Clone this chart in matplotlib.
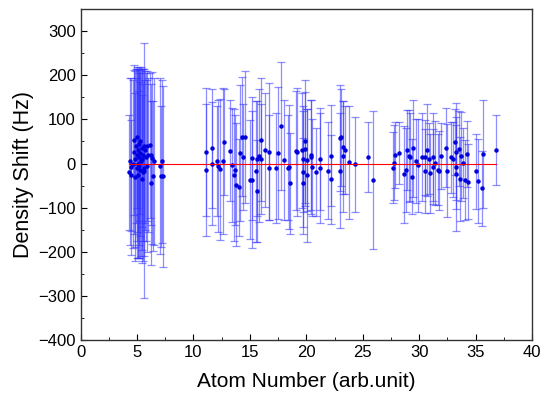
import numpy as np
import matplotlib
matplotlib.use('Agg')
import matplotlib.pyplot as plt

plt.rcParams['font.family'] = ['Liberation Sans', 'DejaVu Sans']

# cluster 1 (dense, large uncertainty)
x1 = [4.3, 4.4, 4.46, 4.5, 4.6, 4.75, 4.75, 4.8, 4.85, 4.9, 4.95, 5.0, 5.0, 5.05, 5.1,
      5.1, 5.15, 5.2, 5.2, 5.25, 5.3, 5.3, 5.35, 5.4, 5.4, 5.45, 5.5, 5.5, 5.57, 5.6,
      5.65, 5.7, 5.75, 5.84, 5.9, 6.0, 6.1, 6.2, 6.2, 6.35, 6.4, 6.5, 7.0, 7.1, 7.2, 7.3]
y1 = [-20, 5, -27, -7, -1, 54, 26, 10, -30, 40, 20, -10, 60, 0, 30,
      -25, 15, 45, -5, 25, -15, 50, 5, 35, -35, 10, 20, -20, -16, 40,
      -10, 30, 15, 39, -5, 20, 41, 20, -44, 13, -29, 5, -5, -29, 5, -29]
e1 = [130, 190, 125, 200, 190, 170, 185, 200, 190, 175, 195, 205, 160, 215, 185,
      190, 200, 175, 210, 190, 200, 165, 215, 180, 190, 205, 195, 200, 289, 175,
      200, 180, 190, 170, 195, 175, 165, 160, 185, 195, 170, 190, 200, 160, 185, 205]

# cluster 2
x2 = [11.1, 11.1, 11.6, 11.6, 12.06, 12.2, 12.35, 12.6, 12.7, 13.2, 13.4, 13.6, 13.65,
      13.8, 14.07, 14.1, 14.3, 14.35, 14.6, 15.0, 15.2, 15.2, 15.5, 15.6, 15.6, 15.8,
      16.0, 16.0, 16.3, 16.7, 16.7, 17.3, 17.5, 17.8, 18.0, 18.4, 18.5, 18.55, 19.05,
      19.2, 19.65, 19.7, 19.75, 19.75, 19.85, 19.9, 20.1, 20.1, 20.4, 20.45, 20.5,
      20.9, 21.2, 21.2, 21.9, 22.2, 22.2, 23.0, 23.0, 23.1, 23.25, 23.25, 23.4, 23.8,
      24.3, 25.5, 25.95]
y2 = [27, -14, 35, 0, 6, -5, -13, 6, 49, 29, -3, -26, -14,
      -48, -54, 24, 61, 14, 60, -37, 12, -37, -18, 11, -62, 18,
      54, 11, 31, 27, -9, -10, 24, 86, 8, -9, -8, -45, 29,
      26, 30, 10, -20, -43, 33, 50, 8, -27, 20, 15, -8,
      -19, 10, -10, -16, 18, -36, 58, -16, 60, 37, 16, 30, 3,
      -2, 15, -37]
e2 = [145, 150, 135, 140, 125, 150, 160, 165, 120, 115, 130, 150, 125,
      140, 110, 155, 135, 120, 150, 135, 140, 155, 160, 130, 115, 150,
      140, 125, 130, 155, 120, 125, 150, 145, 135, 120, 140, 115, 135,
      145, 130, 120, 140, 100, 130, 140, 115, 150, 125, 130, 110,
      100, 115, 125, 110, 115, 100, 120, 130, 110, 105, 125, 100, 128,
      107, 80, 157]

# cluster 3
x3 = [27.65, 27.8, 27.9, 28.2, 28.7, 28.85, 28.9, 29.1, 29.2, 29.4, 29.5, 29.7, 29.9,
      30.3, 30.5, 30.55, 30.7, 30.85, 31.0, 31.2, 31.2, 31.4, 31.65, 31.8, 31.95,
      32.4, 32.45, 32.8, 33.0, 33.2, 33.25, 33.25, 33.3, 33.55, 33.65, 33.7, 33.9,
      34.1, 34.25, 34.3, 35.0, 35.2, 35.6, 35.7, 36.8]
y3 = [-9, 2, 20, 24, -24, -14, 31, 17, 15, -30, 35, 6, -4,
      14, 14, -17, 31, 11, -22, 15, -7, 2, -14, -16, 18,
      36, -16, 14, 10, 49, 27, -8, -24, 33, -35, 16, 1,
      -37, 22, -41, -18, -39, -56, 21, 31]
e3 = [80, 85, 75, 70, 110, 95, 90, 105, 100, 85, 110, 95, 105,
      100, 85, 95, 105, 80, 90, 100, 85, 95, 80, 90, 75,
      90, 105, 80, 85, 75, 110, 95, 130, 85, 95, 100, 80,
      90, 75, 85, 85, 95, 85, 122, 80]

x = np.array(x1 + x2 + x3)
y = np.array(y1 + y2 + y3)
err = np.array(e1 + e2 + e3)

fig = plt.figure(figsize=(5.43, 3.99), dpi=100)
ax = fig.add_axes([0.1486, 0.148, 0.831, 0.829])

ax.errorbar(x, y, yerr=err, fmt='none', ecolor=(0.2, 0.2, 1.0, 0.55),
            elinewidth=0.9, capsize=2.6, capthick=0.9, zorder=2)
ax.plot(x, y, 'o', color='#0000dd', markersize=2.2, zorder=3)
ax.plot([x.min(), x.max()], [0, 0], color='red', lw=0.8, zorder=4)

ax.set_xlim(0, 40)
ax.set_ylim(-400, 350)
ax.set_xticks(np.arange(0, 41, 5))
ax.set_yticks(np.arange(-400, 301, 100))
ax.set_xticks(np.arange(0, 40, 2.5), minor=True)
ax.set_yticks(np.arange(-400, 351, 50), minor=True)
ax.tick_params(which='both', direction='in', top=False, right=False, labelsize=12)
ax.tick_params(which='major', length=4.5)
ax.tick_params(which='minor', length=2.5)
for s in ax.spines.values():
    s.set_linewidth(1.0)
    s.set_color('#333333')

ax.set_xlabel('Atom Number (arb.unit)', fontsize=15, labelpad=9)
ax.set_ylabel('Density Shift (Hz)', fontsize=15.5, labelpad=3)

fig.savefig('out.png', dpi=100)
